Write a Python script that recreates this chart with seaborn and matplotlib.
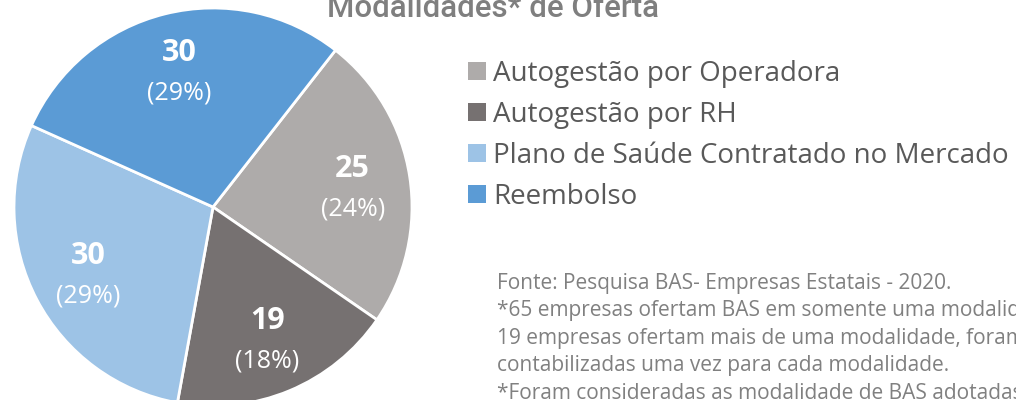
import matplotlib
matplotlib.use("Agg")
import matplotlib.pyplot as plt
from matplotlib.patches import Patch
import numpy as np
import seaborn as sns

# Data
categories = [
    "Autogestão por Operadora",
    "Autogestão por RH",
    "Plano de Saúde Contratado no Mercado",
    "Reembolso",
]
counts = [25, 19, 30, 30]
colors = ["#AEABAA", "#767171", "#9DC3E6", "#5B9BD5"]
title = "Modalidades* de Oferta"
notes = [
    "Fonte: Pesquisa BAS- Empresas Estatais - 2020.",
    "*65 empresas ofertam BAS em somente uma modalidade e",
    "19 empresas ofertam mais de uma modalidade, foram",
    "contabilizadas uma vez para cada modalidade.",
    "*Foram consideradas as modalidade de BAS adotadas pelas empresas.",
]

sns.set_theme(style="white")
plt.rcParams["font.family"] = ["Open Sans", "DejaVu Sans"]

W, H = 1016, 400
fig = plt.figure(figsize=(W / 100, H / 100), dpi=100)
fig.patch.set_facecolor("white")


def fx(px):
    return px / W


def fy(py):
    return 1 - py / H


# Pie geometry in pixels
cx, cy, R = 213, 207, 199
ax = fig.add_axes([fx(cx - R), fy(cy + R), 2 * R / W, 2 * R / H])
wedges, _ = ax.pie(
    counts,
    colors=colors,
    startangle=52,
    counterclock=False,
    wedgeprops=dict(edgecolor="white", linewidth=2),
)
ax.set_xlim(-1, 1)
ax.set_ylim(-1, 1)
ax.set_aspect("equal")
ax.axis("off")

total = sum(counts)
for w, c in zip(wedges, counts):
    mid = np.deg2rad((w.theta1 + w.theta2) / 2)
    x, y = 0.71 * np.cos(mid), 0.71 * np.sin(mid)
    ax.annotate(str(c), xy=(x, y), xytext=(0, 14.5), textcoords="offset points",
                ha="center", va="center_baseline", color="white", fontsize=22,
                fontweight="bold")
    ax.annotate(f"({round(c / total * 100)}%)", xy=(x, y), xytext=(0, -14.5),
                textcoords="offset points", ha="center", va="center_baseline",
                color="white", fontsize=18)

# Title
fig.text(fx(327), fy(17), title, ha="left", va="baseline", fontsize=22.5,
         color="#7F7F7F", family=["Roboto", "DejaVu Sans"], fontweight="medium")

# Legend
fs_leg = 20
handles = [Patch(facecolor=c, edgecolor="none") for c in colors]
fig.legend(handles, categories, loc="upper left",
           bbox_to_anchor=(fx(468), fy(60)), bbox_transform=fig.transFigure,
           frameon=False, fontsize=fs_leg, handlelength=0.64, handleheight=0.62,
           handletextpad=0.26, labelspacing=0.47, borderpad=0, borderaxespad=0,
           labelcolor="#595959")

# Source notes
for i, line in enumerate(notes):
    fig.text(fx(497), fy(289 + 27.4 * i), line, ha="left", va="baseline",
             fontsize=15, color="#808080")

fig.savefig("out.png", dpi=100)
